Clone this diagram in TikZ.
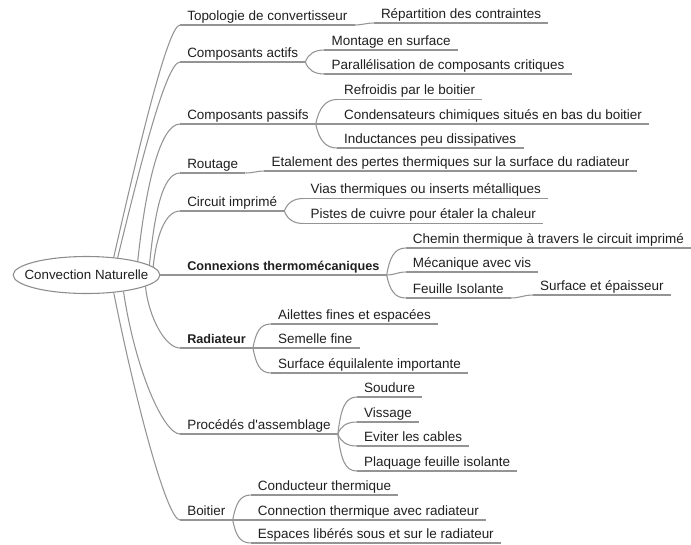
\documentclass[tikz,border=0pt]{standalone}
\usepackage{fontspec}
\setmainfont{Liberation Sans}
\usetikzlibrary{calc,shapes.geometric}
\tikzset{
  topic/.style={anchor=south west, inner xsep=5.25pt, inner ysep=0pt, text depth=3.4pt, text height=7pt,
    font=\fontsize{10.1pt}{12pt}\selectfont, text=black!88},
  strong/.style={topic, font=\fontsize{9.5pt}{12pt}\selectfont\bfseries},
  branch/.style={draw=black!42, line width=0.8pt},
}
\begin{document}
\begin{tikzpicture}[x=0.75pt, y=-0.75pt]
	%%%%% START %%%%%
	\useasboundingbox (0,0) rectangle (691,544);
	
	\node[ellipse, draw=black!45, fill=white, line width=0.8pt, minimum width=110pt, minimum height=27.75pt,
	  inner sep=0pt, font=\fontsize{10pt}{12pt}\selectfont, text=black!88] (root) at (86.5,275) {\makebox[0pt]{Convection Naturelle}};
	
	% main topics
	\node[topic] (topo) at (180,25) {Topologie de convertisseur};
	\node[topic] (actifs) at (180,62) {Composants actifs};
	\node[topic] (passifs) at (180,124) {Composants passifs};
	\node[topic] (routage) at (180,173) {Routage};
	\node[topic] (circuit) at (180,211) {Circuit imprimé};
	\node[strong] (connex) at (180,275) {Connexions thermomécaniques};
	\node[strong] (radiat) at (180,348) {Radiateur};
	\node[topic] (proced) at (180,434) {Procédés d\textquotesingle assemblage};
	\node[topic] (boit) at (180,520) {Boitier};
	
	% sub topics
	\node[topic] (repart) at ($(topo.south east)+(19,-2)$) {Répartition des contraintes};
	
	\node[topic] (montage) at ($(actifs.south east)+(19,-12)$) {Montage en surface};
	\node[topic] (parall) at ($(actifs.south east)+(19,12)$) {Parallélisation de composants critiques};
	
	\node[topic] (refroid) at ($(passifs.south east)+(21,-24.5)$) {Refroidis par le boitier};
	\node[topic] (conden) at ($(passifs.south east)+(21,0)$) {Condensateurs chimiques situés en bas du boitier};
	\node[topic] (induct) at ($(passifs.south east)+(21,24)$) {Inductances peu dissipatives};
	
	\node[topic] (etal) at ($(routage.south east)+(19,-2)$) {Etalement des pertes thermiques sur la surface du radiateur};
	
	\node[topic] (vias) at ($(circuit.south east)+(19,-12.5)$) {Vias thermiques ou inserts métalliques};
	\node[topic] (pistes) at ($(circuit.south east)+(19,12.5)$) {Pistes de cuivre pour étaler la chaleur};
	
	\node[topic] (chemin) at ($(connex.south east)+(19,-27)$) {Chemin thermique à travers le circuit imprimé};
	\node[topic] (meca) at ($(connex.south east)+(19,-3)$) {Mécanique avec vis};
	\node[topic] (feuille) at ($(connex.south east)+(19,23)$) {Feuille Isolante};
	\node[topic] (surf) at ($(feuille.south east)+(22,-3)$) {Surface et épaisseur};
	
	\node[topic] (ailet) at ($(radiat.south east)+(18,-24)$) {Ailettes fines et espacées};
	\node[topic] (semel) at ($(radiat.south east)+(18,0)$) {Semelle fine};
	\node[topic] (surfeq) at ($(radiat.south east)+(18,25)$) {Surface équilalente importante};
	
	\node[topic] (soud) at ($(proced.south east)+(19,-37)$) {Soudure};
	\node[topic] (viss) at ($(proced.south east)+(19,-12)$) {Vissage};
	\node[topic] (evit) at ($(proced.south east)+(19,12)$) {Eviter les cables};
	\node[topic] (plaq) at ($(proced.south east)+(19,37)$) {Plaquage feuille isolante};
	
	\node[topic] (cond) at ($(boit.south east)+(18,-25)$) {Conducteur thermique};
	\node[topic] (connec) at ($(boit.south east)+(18,0)$) {Connection thermique avec radiateur};
	\node[topic] (espac) at ($(boit.south east)+(18,23)$) {Espaces libérés sous et sur le radiateur};
	
	% underlines
	\foreach \n in {topo,actifs,passifs,routage,circuit,connex,radiat,proced,boit,
	  repart,montage,parall,refroid,conden,induct,etal,vias,pistes,chemin,meca,feuille,surf,
	  ailet,semel,surfeq,soud,viss,evit,plaq,cond,connec,espac}
	  \draw[branch] (\n.south west) -- (\n.south east);
	
	% branches from the root
	\draw[branch] (root.33) .. controls +(25,-110) and +(-12,0) .. (topo.south west);
	\draw[branch] (root.29) .. controls +(22,-90) and +(-14,0) .. (actifs.south west);
	\draw[branch] (root.15) .. controls +(8,-75) and +(-20,0) .. (passifs.south west);
	\draw[branch] (root.9.4) .. controls +(5,-50) and +(-18,0) .. (routage.south west);
	\draw[branch] (root.7) .. controls +(3,-30) and +(-15,0) .. (circuit.south west);
	\draw[branch] (root.east) -- (connex.south west);
	\draw[branch] (root.-11) .. controls +(3,30) and +(-15,0) .. (radiat.south west);
	\draw[branch] (root.-24) .. controls +(12,80) and +(-16,0) .. (proced.south west);
	\draw[branch] (root.-33) .. controls +(22,110) and +(-13,0) .. (boit.south west);
	
	% branches to the sub topics
	\draw[branch] (topo.south east) .. controls +(8,0) and +(-8,0) .. (repart.south west);
	\draw[branch] (actifs.south east) .. controls +(3,-8) and +(-10,0) .. (montage.south west);
	\draw[branch] (actifs.south east) .. controls +(3,8) and +(-10,0) .. (parall.south west);
	\draw[branch] (passifs.south east) .. controls +(3,-16) and +(-11,0) .. (refroid.south west);
	\draw[branch] (passifs.south east) -- (conden.south west);
	\draw[branch] (passifs.south east) .. controls +(3,16) and +(-11,0) .. (induct.south west);
	\draw[branch] (routage.south east) .. controls +(8,0) and +(-8,0) .. (etal.south west);
	\draw[branch] (circuit.south east) .. controls +(3,-8) and +(-10,0) .. (vias.south west);
	\draw[branch] (circuit.south east) .. controls +(3,8) and +(-10,0) .. (pistes.south west);
	\draw[branch] (connex.south east) .. controls +(3,-18) and +(-11,0) .. (chemin.south west);
	\draw[branch] (connex.south east) .. controls +(8,0) and +(-8,0) .. (meca.south west);
	\draw[branch] (connex.south east) .. controls +(3,15) and +(-11,0) .. (feuille.south west);
	\draw[branch] (feuille.south east) .. controls +(9,0) and +(-9,0) .. (surf.south west);
	\draw[branch] (radiat.south east) .. controls +(3,-16) and +(-11,0) .. (ailet.south west);
	\draw[branch] (radiat.south east) -- (semel.south west);
	\draw[branch] (radiat.south east) .. controls +(3,16) and +(-11,0) .. (surfeq.south west);
	\draw[branch] (proced.south east) .. controls +(3,-25) and +(-12,0) .. (soud.south west);
	\draw[branch] (proced.south east) .. controls +(3,-8) and +(-10,0) .. (viss.south west);
	\draw[branch] (proced.south east) .. controls +(3,8) and +(-10,0) .. (evit.south west);
	\draw[branch] (proced.south east) .. controls +(3,25) and +(-12,0) .. (plaq.south west);
	\draw[branch] (boit.south east) .. controls +(3,-16) and +(-11,0) .. (cond.south west);
	\draw[branch] (boit.south east) -- (connec.south west);
	\draw[branch] (boit.south east) .. controls +(3,15) and +(-11,0) .. (espac.south west);
	
	%%%%% END %%%%%
\end{tikzpicture}
\end{document}
